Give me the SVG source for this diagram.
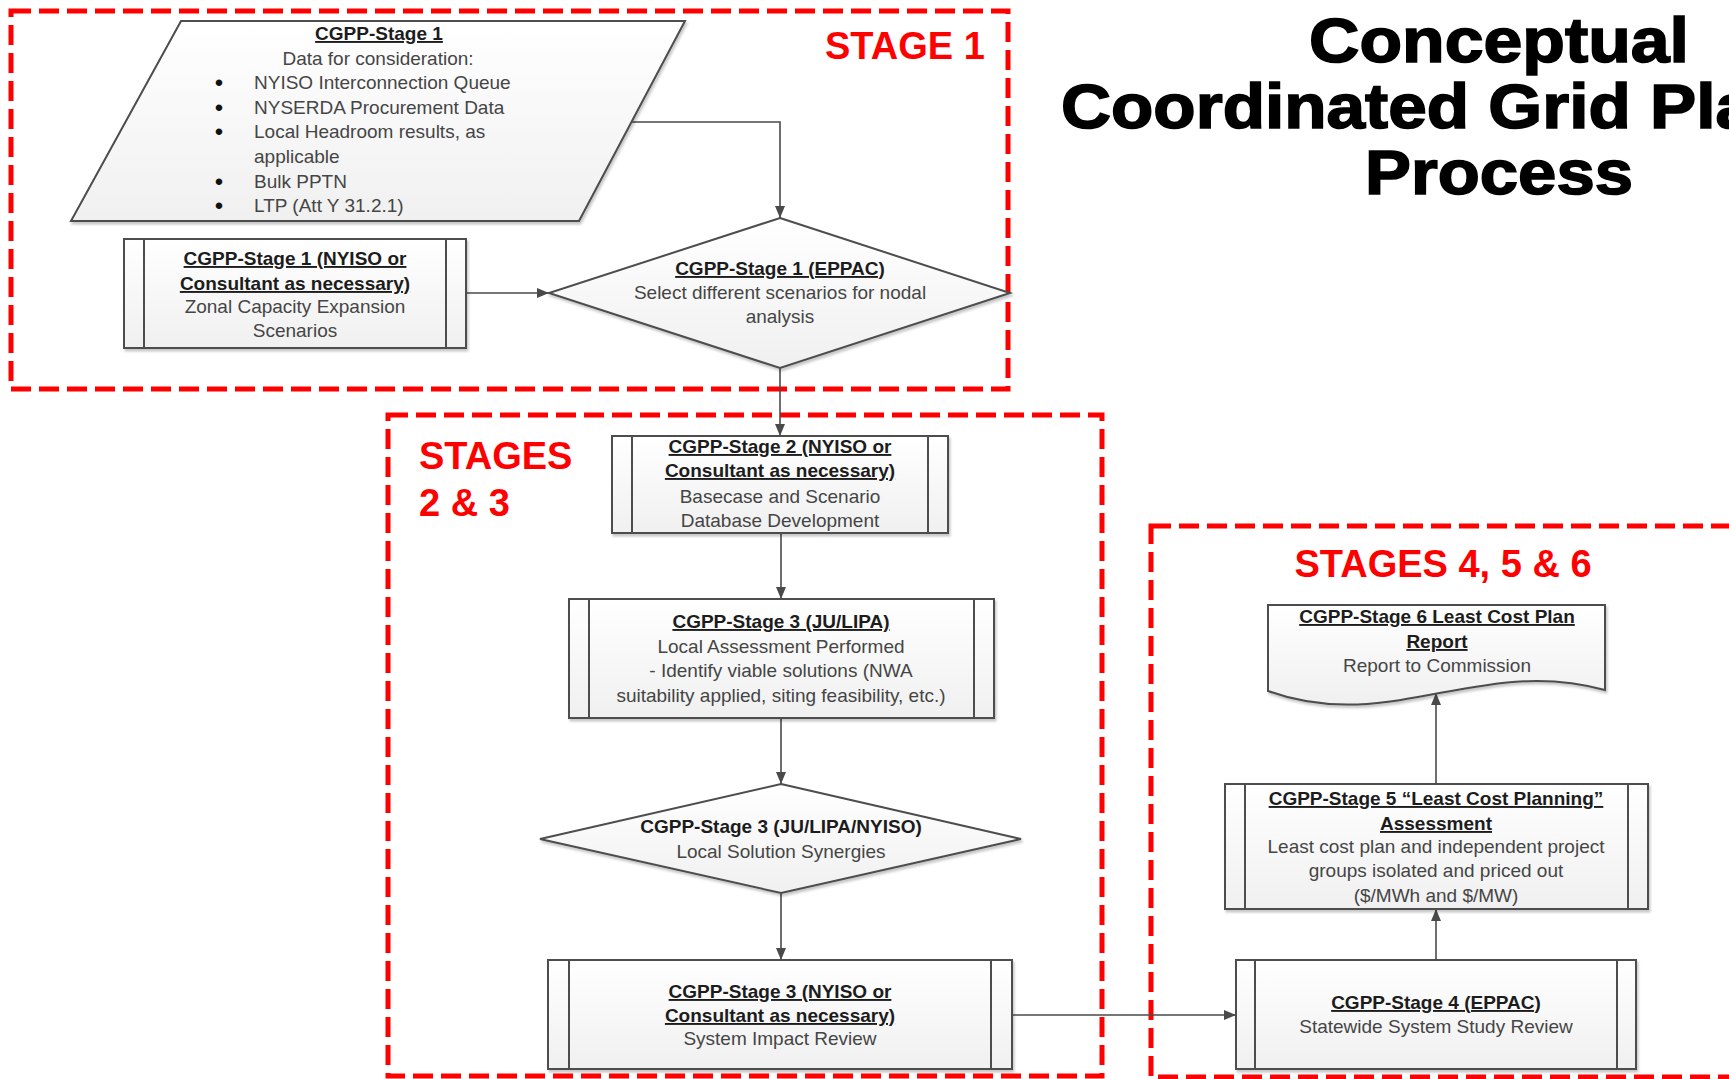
<svg xmlns="http://www.w3.org/2000/svg" width="1729" height="1079" viewBox="0 0 1729 1079">
<defs>
<linearGradient id="g" x1="0" y1="0" x2="0" y2="1">
<stop offset="0" stop-color="#ffffff"/>
<stop offset="1" stop-color="#f0f0f0"/>
</linearGradient>
<filter id="sh" x="-5%" y="-5%" width="115%" height="120%">
<feDropShadow dx="1.5" dy="2.5" stdDeviation="1.2" flood-color="#000" flood-opacity="0.22"/>
</filter>
<marker id="arr" viewBox="0 0 12 10" refX="12" refY="5" markerWidth="12" markerHeight="10" markerUnits="userSpaceOnUse" orient="auto">
<path d="M0,0 L12,5 L0,10 z" fill="#4a4a4a"/>
</marker>
<style>
.box{fill:url(#g);stroke:#4d4d4d;stroke-width:2;filter:url(#sh)}
.sl{stroke:#4d4d4d;stroke-width:2;fill:none}
.t{font-family:"Liberation Sans",Arial,sans-serif;font-size:19px;fill:#454545;text-anchor:middle}
.l{text-anchor:start}
.h{font-weight:bold;fill:#1c1c1c;text-decoration:underline}
.b{font-weight:bold;fill:#1c1c1c}
.bul{font-family:"Liberation Sans",Arial,sans-serif;font-size:24px;fill:#111;text-anchor:middle}
.red{fill:none;stroke:#ff0000;stroke-width:5;stroke-dasharray:20 8}
.lbl{font-family:"Liberation Sans",Arial,sans-serif;font-weight:bold;font-size:38px;fill:#ff0000}
.ttl{font-family:"Liberation Sans",Arial,sans-serif;font-weight:bold;font-size:63px;fill:#000;stroke:#000;stroke-width:1.6}
.conn{stroke:#4a4a4a;stroke-width:1.6;fill:none;marker-end:url(#arr)}
</style>
</defs>
<rect x="0" y="0" width="1729" height="1079" fill="#ffffff"/>

<g id="title">
<text class="ttl" x="1309" y="62" textLength="380" lengthAdjust="spacingAndGlyphs">Conceptual</text>
<text class="ttl" x="1061" y="128" textLength="693" lengthAdjust="spacingAndGlyphs">Coordinated Grid Pla</text>
<text class="ttl" x="1365" y="194" textLength="268" lengthAdjust="spacingAndGlyphs">Process</text>
</g>

<g id="stage1-group">
<rect class="red" x="11" y="11" width="997" height="378"/>
<text class="lbl" x="825" y="59">STAGE 1</text>
</g>
<g id="stages23-group">
<rect class="red" x="388" y="415" width="714" height="661"/>
<text class="lbl" x="419" y="469">STAGES</text>
<text class="lbl" x="419" y="516">2 &amp; 3</text>
</g>
<g id="stages456-group">
<rect class="red" x="1151" y="526" width="620" height="551"/>
<text class="lbl" x="1443" y="577" text-anchor="middle">STAGES 4, 5 &amp; 6</text>
</g>

<g id="connectors">
<path class="conn" d="M632,122 H780 V218"/>
<path class="conn" d="M466,293 H549"/>
<path class="conn" d="M780,368 V436"/>
<path class="conn" d="M781,533 V599"/>
<path class="conn" d="M781,718 V784"/>
<path class="conn" d="M781,893 V960"/>
<path class="conn" d="M1012,1015 H1236"/>
<path class="conn" d="M1436,960 V909"/>
<path class="conn" d="M1436,784 V693"/>
</g>

<g id="data-input">
<polygon class="box" points="181,21 685,21 579,221 71,221"/>
<text class="t h" x="379" y="40">CGPP-Stage 1</text>
<text class="t" x="378" y="65">Data for consideration:</text>
<text class="bul" x="219" y="91">•</text>
<text class="bul" x="219" y="116">•</text>
<text class="bul" x="219" y="140">•</text>
<text class="bul" x="219" y="190">•</text>
<text class="bul" x="219" y="214">•</text>
<text class="t l" x="254" y="89">NYISO Interconnection Queue</text>
<text class="t l" x="254" y="114">NYSERDA Procurement Data</text>
<text class="t l" x="254" y="138">Local Headroom results, as</text>
<text class="t l" x="254" y="163">applicable</text>
<text class="t l" x="254" y="188">Bulk PPTN</text>
<text class="t l" x="254" y="212">LTP (Att Y 31.2.1)</text>
</g>

<g id="stage1-zonal">
<rect class="box" x="124" y="239" width="342" height="109"/>
<path class="sl" d="M144,239 V348 M446,239 V348"/>
<text class="t h" x="295" y="265">CGPP-Stage 1 (NYISO or</text>
<text class="t h" x="295" y="290">Consultant as necessary)</text>
<text class="t" x="295" y="313">Zonal Capacity Expansion</text>
<text class="t" x="295" y="337">Scenarios</text>
</g>

<g id="stage1-eppac">
<polygon class="box" points="780,218 1010,293 780,368 549,293"/>
<text class="t h" x="780" y="275">CGPP-Stage 1 (EPPAC)</text>
<text class="t" x="780" y="299">Select different scenarios for nodal</text>
<text class="t" x="780" y="323">analysis</text>
</g>

<g id="stage2">
<rect class="box" x="612" y="436" width="336" height="97"/>
<path class="sl" d="M632,436 V533 M928,436 V533"/>
<text class="t h" x="780" y="453">CGPP-Stage 2 (NYISO or</text>
<text class="t h" x="780" y="477">Consultant as necessary)</text>
<text class="t" x="780" y="503">Basecase and Scenario</text>
<text class="t" x="780" y="527">Database Development</text>
</g>

<g id="stage3-local">
<rect class="box" x="569" y="599" width="425" height="119"/>
<path class="sl" d="M589,599 V718 M974,599 V718"/>
<text class="t h" x="781" y="628">CGPP-Stage 3 (JU/LIPA)</text>
<text class="t" x="781" y="653">Local Assessment Performed</text>
<text class="t" x="781" y="677">- Identify viable solutions (NWA</text>
<text class="t" x="781" y="702">suitability applied, siting feasibility, etc.)</text>
</g>

<g id="stage3-synergies">
<polygon class="box" points="781,784 1021,839 781,893 540,839"/>
<text class="t b" x="781" y="833">CGPP-Stage 3 (JU/LIPA/NYISO)</text>
<text class="t" x="781" y="858">Local Solution Synergies</text>
</g>

<g id="stage3-sir">
<rect class="box" x="548" y="960" width="464" height="109"/>
<path class="sl" d="M569,960 V1069 M991,960 V1069"/>
<text class="t h" x="780" y="998">CGPP-Stage 3 (NYISO or</text>
<text class="t h" x="780" y="1022">Consultant as necessary)</text>
<text class="t" x="780" y="1045">System Impact Review</text>
</g>

<g id="stage4">
<rect class="box" x="1236" y="960" width="400" height="109"/>
<path class="sl" d="M1255,960 V1069 M1617,960 V1069"/>
<text class="t h" x="1436" y="1009">CGPP-Stage 4 (EPPAC)</text>
<text class="t" x="1436" y="1033">Statewide System Study Review</text>
</g>

<g id="stage5">
<rect class="box" x="1225" y="784" width="423" height="125"/>
<path class="sl" d="M1245,784 V909 M1628,784 V909"/>
<text class="t h" x="1436" y="805">CGPP-Stage 5 “Least Cost Planning”</text>
<text class="t h" x="1436" y="830">Assessment</text>
<text class="t" x="1436" y="853">Least cost plan and independent project</text>
<text class="t" x="1436" y="877">groups isolated and priced out</text>
<text class="t" x="1436" y="902">($/MWh and $/MW)</text>
</g>

<g id="stage6">
<path class="box" d="M1268,605 H1605 V690 C1480,655 1390,735 1268,691 Z"/>
<text class="t h" x="1437" y="623">CGPP-Stage 6 Least Cost Plan</text>
<text class="t h" x="1437" y="648">Report</text>
<text class="t" x="1437" y="672">Report to Commission</text>
</g>
</svg>
